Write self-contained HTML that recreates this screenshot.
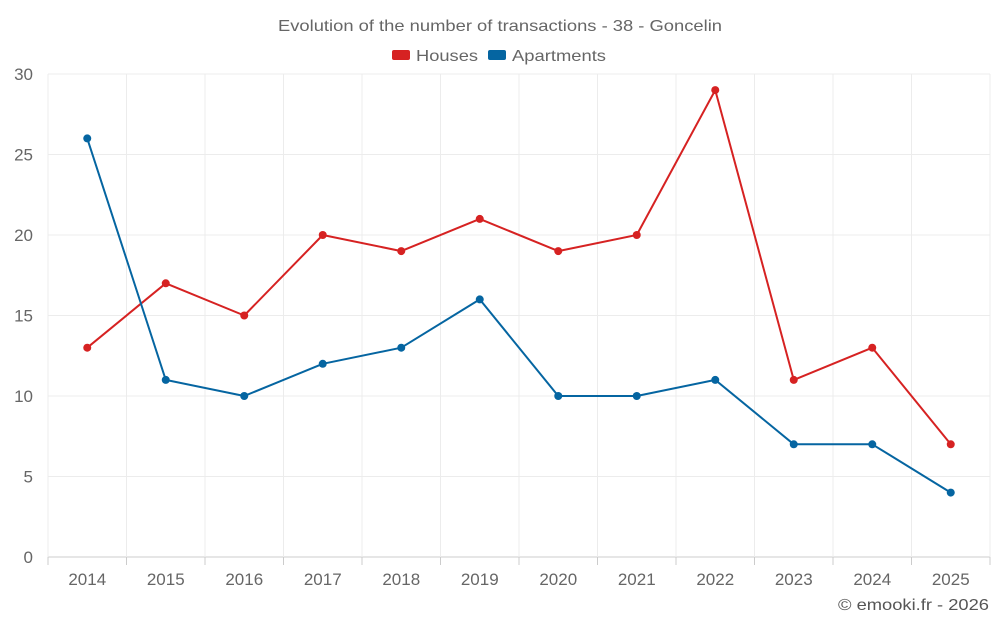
<!DOCTYPE html>
<html><head><meta charset="utf-8">
<style>
html,body{margin:0;padding:0;background:#fff;}
svg{display:block;font-family:"Liberation Sans",sans-serif;}
</style></head>
<body>
<svg id="chart" width="1000" height="625" viewBox="0 0 1000 625">
  <text x="278" y="31" font-size="16" fill="#666" textLength="444" lengthAdjust="spacingAndGlyphs">Evolution of the number of transactions - 38 - Goncelin</text>
  <g>
    <g>
      <rect x="392" y="50" width="18" height="10" rx="2" fill="#d62222"/>
      <text x="416" y="61" font-size="16" fill="#666" textLength="62" lengthAdjust="spacingAndGlyphs">Houses</text>
    </g>
    <g>
      <rect x="488" y="50" width="18" height="10" rx="2" fill="#0565a1"/>
      <text x="512" y="61" font-size="16" fill="#666" textLength="94" lengthAdjust="spacingAndGlyphs">Apartments</text>
    </g>
  </g>
  <g id="grid"></g>
  <g id="axes"></g>
  <g id="series"></g>
  <text x="838" y="610" font-size="16" fill="#555" textLength="151" lengthAdjust="spacingAndGlyphs">© emooki.fr - 2026</text>
</svg>
<script>
const categories = ["2014","2015","2016","2017","2018","2019","2020","2021","2022","2023","2024","2025"];
const houses = [13,17,15,20,19,21,19,20,29,11,13,7];
const apartments = [26,11,10,12,13,16,10,10,11,7,7,4];
const yTicks = [0,5,10,15,20,25,30];

const NS = "http://www.w3.org/2000/svg";
const L = 48, R = 990, T = 74, B = 557, yMax = 30;
const band = (R - L) / categories.length;
const x = i => L + band * (i + 0.5);
const y = v => B - (v / yMax) * (B - T);
function mk(tag, attrs, parent) {
  const e = document.createElementNS(NS, tag);
  for (const k in attrs) e.setAttribute(k, attrs[k]);
  parent.appendChild(e);
  return e;
}
const grid = document.getElementById("grid");
const axes = document.getElementById("axes");
const series = document.getElementById("series");

yTicks.forEach(t => {
  const ln = mk("line", {x1: L, x2: R, y1: y(t), y2: y(t), stroke: t === 0 ? "#ccc" : "#ececec", "stroke-width": 1}, grid);
  
  
  const tx = mk("text", {x: 33, y: y(t) + 6, "text-anchor": "end", "font-size": 17, fill: "#666"}, axes);
  tx.textContent = t;
  
  
});
for (let i = 0; i <= categories.length; i++) {
  const gx = L + band * i;
  const ln = mk("line", {x1: gx, x2: gx, y1: T, y2: B, stroke: "#ececec", "stroke-width": 1}, grid);
  
  
  const tk = mk("line", {x1: gx, x2: gx, y1: B, y2: B + 8, stroke: "#ccc", "stroke-width": 1}, axes);
  
  
}
categories.forEach((c, i) => {
  const tx = mk("text", {x: x(i), y: 585, "text-anchor": "middle", "font-size": 17, fill: "#666"}, axes);
  tx.textContent = c;
  
  
});

function drawSeries(vals, color, name) {
  const g = mk("g", {}, series);
  
  
  const p = mk("polyline", {points: vals.map((v, i) => x(i) + "," + y(v)).join(" "), fill: "none", stroke: color, "stroke-width": 2, "stroke-linejoin": "round"}, g);
  
  
  vals.forEach((v, i) => {
    const c = mk("circle", {cx: x(i), cy: y(v), r: 4, fill: color}, g);
    
    
  });
}
drawSeries(houses, "#d62222", "houses");
drawSeries(apartments, "#0565a1", "apartments");
</script>
</body></html>
